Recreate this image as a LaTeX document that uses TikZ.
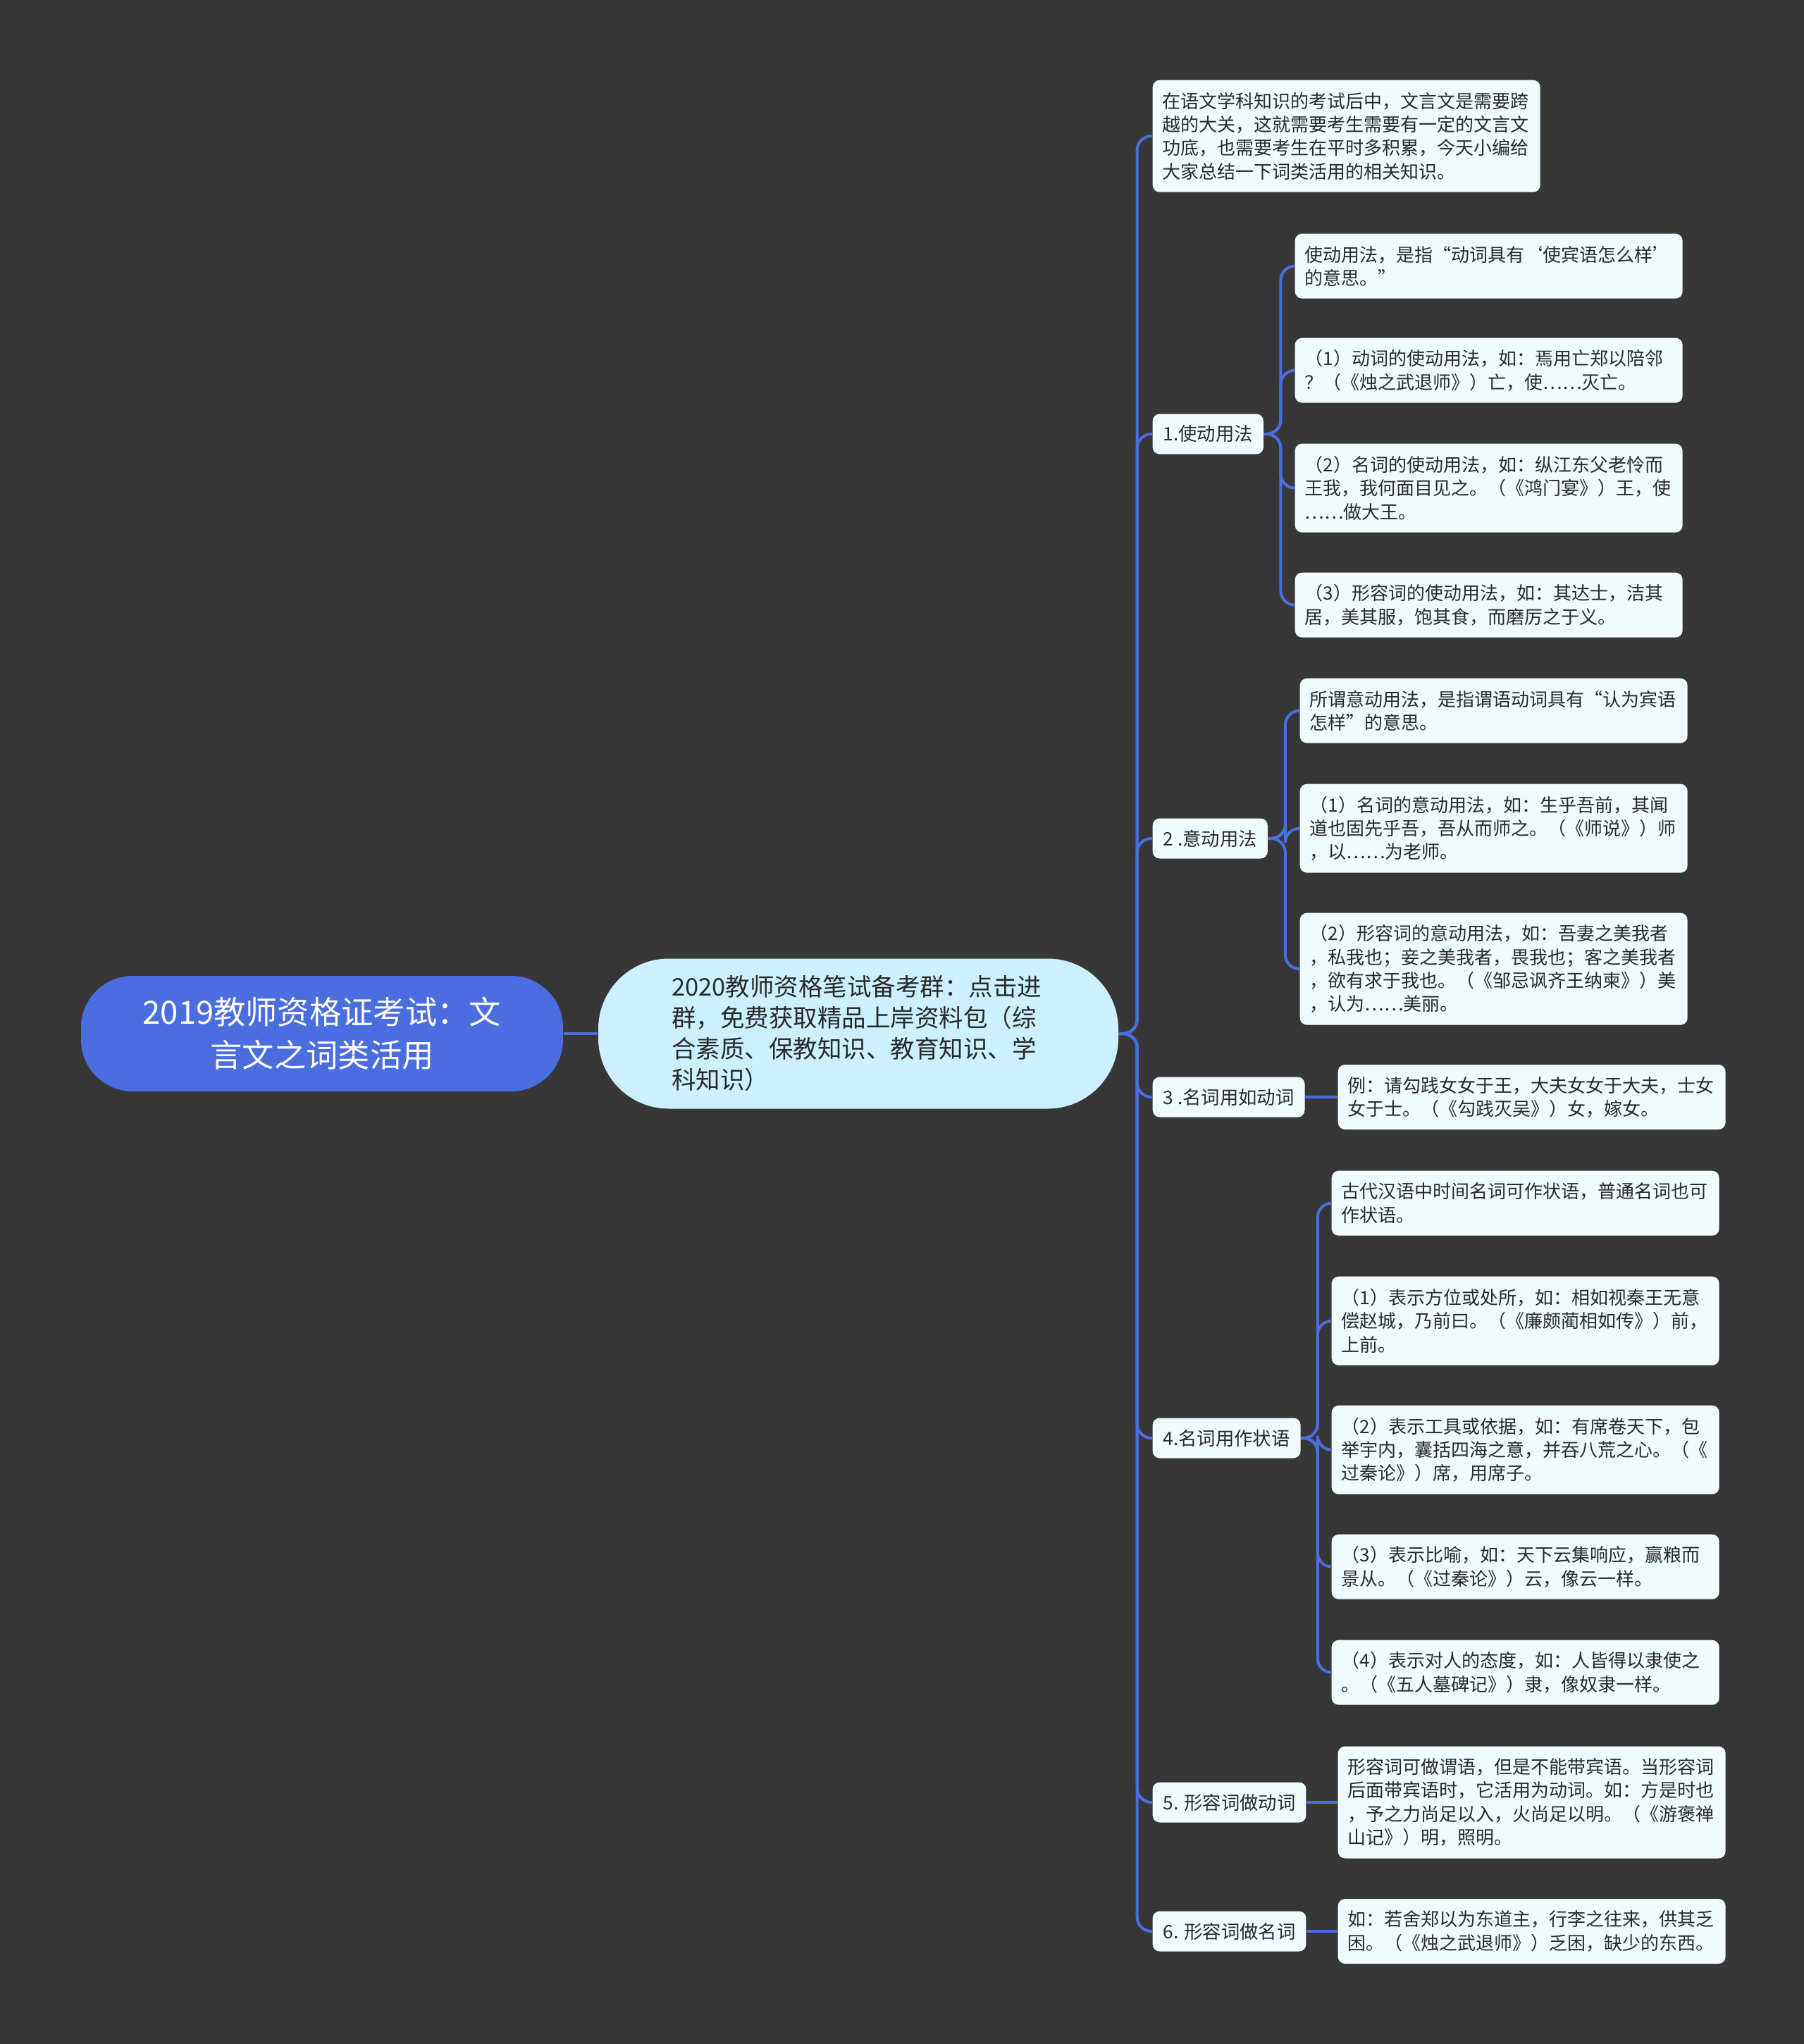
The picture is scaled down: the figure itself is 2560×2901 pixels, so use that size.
\documentclass[tikz,border=0pt]{standalone}
\usepackage{fontspec}
\setmainfont{Noto Sans CJK SC}
\usetikzlibrary{calc}
\definecolor{bg}{HTML}{373737}
\definecolor{rootc}{HTML}{4A6EE0}
\definecolor{linec}{HTML}{4A6EE0}
\definecolor{subc}{HTML}{CCF0FE}
\definecolor{leafc}{HTML}{F0FBFF}
\definecolor{txt}{HTML}{2A2A2A}
\tikzset{
  rootnode/.style={fill=rootc, text=white, rounded corners=22pt, minimum width=205.2pt, minimum height=49.2pt, text width=180pt, align=center, font=\fontsize{13.6}{18.2}\selectfont, inner sep=0pt},
  subnode/.style={fill=subc, text=txt, rounded corners=30pt, minimum width=221.4pt, minimum height=63.9pt, text width=159pt, align=left, font=\fontsize{10.35}{13.2}\selectfont, inner sep=0pt},
  labnode/.style={fill=leafc, text=txt, rounded corners=3pt, minimum height=17.1pt, inner xsep=4.5pt, inner ysep=0pt, font=\fontsize{7.9}{10}\selectfont, anchor=west},
  leafnode/.style={fill=leafc, text=txt, rounded corners=3pt, text width=156.6pt, inner xsep=4.2pt, inner ysep=0pt, align=left, font=\fontsize{7.8}{10}\selectfont, anchor=north west},
  hh2/.style={minimum height=27.6pt},
  hh3/.style={minimum height=37.8pt},
  hh4/.style={minimum height=47.7pt},
  link/.style={draw=linec, line width=1.2pt, rounded corners=6pt}
}
\newcommand{\lnk}[2]{\draw[link] (#1.east) -- ($(#1.east)!0.55!(#2.west |- #1.east)$) |- (#2.west);}
\newcommand{\slnk}[2]{\draw[link] (#1.east) -- (#2.west |- #1.east);}
\begin{document}
\begin{tikzpicture}[x=0.3pt,y=-0.3pt]
\fill[bg] (0,0) rectangle (2560,2901);
\useasboundingbox (0,0) rectangle (2560,2901);

\node[rootnode] (root) at (457,1467) {2019教师资格证考试：文\\言文之词类活用};
\node[subnode] (sub) at (1218,1467) {2020教师资格笔试备考群：点击进\\群，免费获取精品上岸资料包（综\\合素质、保教知识、教育知识、学\\科知识）};

\node[leafnode,hh4] (intro) at (1635,113) {在语文学科知识的考试后中，文言文是需要跨\\越的大关，这就需要考生需要有一定的文言文\\功底，也需要考生在平时多积累，今天小编给\\大家总结一下词类活用的相关知识。};

\node[labnode] (l1) at (1635,616) {1.使动用法};
\node[labnode] (l2) at (1635,1190) {2 .意动用法};
\node[labnode] (l3) at (1635,1557) {3 .名词用如动词};
\node[labnode] (l4) at (1635,2041) {4.名词用作状语};
\node[labnode] (l5) at (1635,2558) {5. 形容词做动词};
\node[labnode] (l6) at (1635,2741) {6. 形容词做名词};

\node[leafnode,hh2] (a1) at (1837,331) {使动用法，是指“动词具有‘使宾语怎么样’\\的意思。”};
\node[leafnode,hh2] (a2) at (1837,479) {（1）动词的使动用法，如：焉用亡郑以陪邻\\？（《烛之武退师》）亡，使……灭亡。};
\node[leafnode,hh3] (a3) at (1837,629) {（2）名词的使动用法，如：纵江东父老怜而\\王我，我何面目见之。（《鸿门宴》）王，使\\……做大王。};
\node[leafnode,hh2] (a4) at (1837,812) {（3）形容词的使动用法，如：其达士，洁其\\居，美其服，饱其食，而磨厉之于义。};

\node[leafnode,hh2] (b1) at (1844,962) {所谓意动用法，是指谓语动词具有“认为宾语\\怎样”的意思。};
\node[leafnode,hh3] (b2) at (1844,1112) {（1）名词的意动用法，如：生乎吾前，其闻\\道也固先乎吾，吾从而师之。（《师说》）师\\，以……为老师。};
\node[leafnode,hh4] (b3) at (1844,1295) {（2）形容词的意动用法，如：吾妻之美我者\\，私我也；妾之美我者，畏我也；客之美我者\\，欲有求于我也。（《邹忌讽齐王纳柬》）美\\，认为……美丽。};

\node[leafnode,hh2,anchor=west] (c1) at (1898,1557) {例：请勾践女女于王，大夫女女于大夫，士女\\女于士。（《勾践灭吴》）女，嫁女。};

\node[leafnode,hh2] (d1) at (1889,1661) {古代汉语中时间名词可作状语，普通名词也可\\作状语。};
\node[leafnode,hh3] (d2) at (1889,1811) {（1）表示方位或处所，如：相如视秦王无意\\偿赵城，乃前曰。（《廉颇蔺相如传》）前，\\上前。};
\node[leafnode,hh3] (d3) at (1889,1994) {（2）表示工具或依据，如：有席卷天下，包\\举宇内，囊括四海之意，并吞八荒之心。（《\\过秦论》）席，用席子。};
\node[leafnode,hh2] (d4) at (1889,2177) {（3）表示比喻，如：天下云集响应，赢粮而\\景从。（《过秦论》）云，像云一样。};
\node[leafnode,hh2] (d5) at (1889,2327) {（4）表示对人的态度，如：人皆得以隶使之\\。（《五人墓碑记》）隶，像奴隶一样。};

\node[leafnode,hh4,anchor=west] (e1) at (1898,2558) {形容词可做谓语，但是不能带宾语。当形容词\\后面带宾语时，它活用为动词。如：方是时也\\，予之力尚足以入，火尚足以明。（《游褒禅\\山记》）明，照明。};

\node[leafnode,hh2,anchor=west] (f1) at (1898,2741) {如：若舍郑以为东道主，行李之往来，供其乏\\困。（《烛之武退师》）乏困，缺少的东西。};

\draw[link] (root.east) -- (sub.west);
\lnk{sub}{intro}
\lnk{sub}{l1}
\lnk{sub}{l2}
\lnk{sub}{l3}
\lnk{sub}{l4}
\lnk{sub}{l5}
\lnk{sub}{l6}
\lnk{l1}{a1}
\lnk{l1}{a2}
\lnk{l1}{a3}
\lnk{l1}{a4}
\lnk{l2}{b1}
\lnk{l2}{b2}
\lnk{l2}{b3}
\slnk{l3}{c1}
\lnk{l4}{d1}
\lnk{l4}{d2}
\lnk{l4}{d3}
\lnk{l4}{d4}
\lnk{l4}{d5}
\slnk{l5}{e1}
\slnk{l6}{f1}
\end{tikzpicture}
\end{document}
